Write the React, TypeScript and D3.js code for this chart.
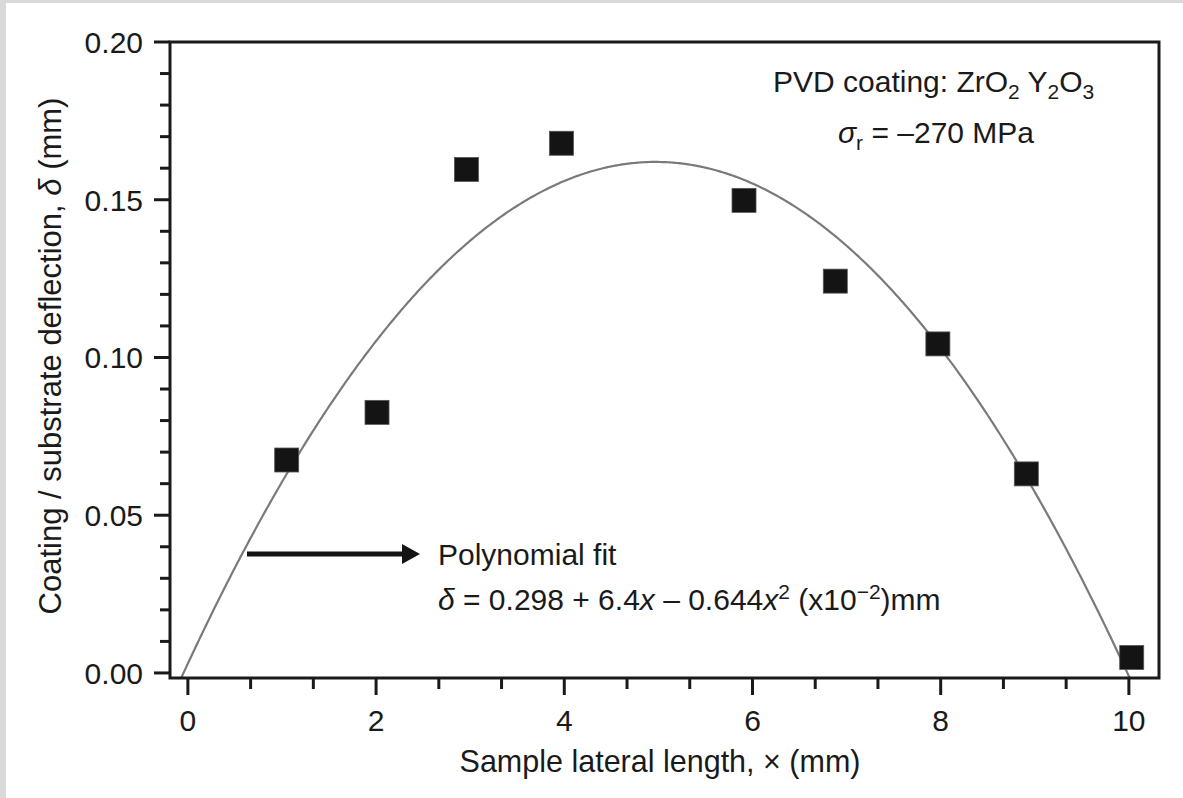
import React from 'react';
import * as d3 from 'd3';

// ---- data ----
const sampleX = [1.05, 2.01, 2.96, 3.97, 5.91, 6.88, 7.97, 8.91, 10.03];
const deflection = [0.0675, 0.0826, 0.1596, 0.1679, 0.1498, 0.1242, 0.1043, 0.0631, 0.0049];
// polynomial fit coefficients, delta = c0 + c1 x + c2 x^2 (x10^-2 mm)
const fitCoefficients = [0.298, 6.4, -0.644];
const fitScale = 0.01;
const xTickValues = [0, 2, 4, 6, 8, 10];
const yTickValues = [0, 0.05, 0.1, 0.15, 0.2];
const yTickLabels = ['0.00', '0.05', '0.10', '0.15', '0.20'];

const W = 1183;
const H = 798;
const FONT = '"Liberation Sans", Arial, Helvetica, sans-serif';

const frame = { left: 170, right: 1159, top: 42, bottom: 678 };

export default function App() {
  const x = d3.scaleLinear().domain([-0.19, 10.32]).range([frame.left, frame.right]);
  const y = d3.scaleLinear().domain([-0.0016, 0.2]).range([frame.bottom, frame.top]);

  const xMinor = d3.range(0, 15).map((i) => (i * 2) / 3).filter((v) => v <= 10.001 && Math.abs(v - Math.round(v / 2) * 2) > 0.01);
  const yMinor = d3.range(0, 21).map((i) => i * 0.01).filter((v) => Math.abs(v / 0.05 - Math.round(v / 0.05)) > 0.01);

  const fitXs = d3.range(-0.08, 10.06, 0.02);
  const fitPts: [number, number][] = fitXs.map((v) => [
    v,
    (fitCoefficients[0] + fitCoefficients[1] * v + fitCoefficients[2] * v * v) * fitScale,
  ]);
  const line = d3
    .line<[number, number]>()
    .x((d) => x(d[0]))
    .y((d) => y(d[1]))
    .curve(d3.curveLinear);

  const sq = 24;
  const fs = 30;
  const sub = 21;

  return (
    <svg
      width={W}
      height={H}
      style={{ position: 'absolute', left: 0, top: 0, background: '#fff' }}
      fontFamily={FONT}
    >
      <rect x={0} y={0} width={W} height={H} fill="#fff" />
      <rect x={0} y={0} width={W} height={3} fill="#d9d9d9" />
      <rect x={0} y={0} width={6} height={H} fill="#d9d9d9" />
      <defs>
        <clipPath id="plotClip">
          <rect x={frame.left} y={frame.top} width={frame.right - frame.left} height={frame.bottom - frame.top} />
        </clipPath>
      </defs>

      {/* fit curve */}
      <path d={line(fitPts) || ''} fill="none" stroke="#7a7a7a" strokeWidth={2.2} clipPath="url(#plotClip)" />

      {/* data points */}
      {sampleX.map((v, i) => (
        <rect
          key={i}
          x={x(v) - sq / 2}
          y={y(deflection[i]) - sq / 2}
          width={sq}
          height={sq}
          fill="#141414"
          stroke="#555"
          strokeWidth={0.8}
        />
      ))}

      {/* frame */}
      <rect
        x={frame.left}
        y={frame.top}
        width={frame.right - frame.left}
        height={frame.bottom - frame.top}
        fill="none"
        stroke="#1a1a1a"
        strokeWidth={3}
      />

      {/* y ticks */}
      {yTickValues.map((v, i) => (
        <g key={'yt' + i}>
          <line x1={frame.left - 16} x2={frame.left} y1={y(v)} y2={y(v)} stroke="#1a1a1a" strokeWidth={3} />
          <text x={143} y={y(v)} dy="0.36em" textAnchor="end" fontSize={fs} fill="#1a1a1a">
            {yTickLabels[i]}
          </text>
        </g>
      ))}
      {yMinor.map((v, i) => (
        <line key={'ym' + i} x1={frame.left - 10} x2={frame.left} y1={y(v)} y2={y(v)} stroke="#1a1a1a" strokeWidth={3} />
      ))}

      {/* x ticks */}
      {xTickValues.map((v, i) => (
        <g key={'xt' + i}>
          <line x1={x(v)} x2={x(v)} y1={frame.bottom} y2={frame.bottom + 17} stroke="#1a1a1a" strokeWidth={3} />
          <text x={x(v)} y={731} textAnchor="middle" fontSize={fs} fill="#1a1a1a">
            {String(v)}
          </text>
        </g>
      ))}
      {xMinor.map((v, i) => (
        <line key={'xm' + i} x1={x(v)} x2={x(v)} y1={frame.bottom} y2={frame.bottom + 11} stroke="#1a1a1a" strokeWidth={3} />
      ))}

      {/* axis titles */}
      <text x={660} y={772} textAnchor="middle" fontSize={30.5} fill="#1a1a1a">
        Sample lateral length, × (mm)
      </text>
      <text
        transform={`translate(61, ${356}) rotate(-90)`}
        textAnchor="middle"
        fontSize={31}
        fill="#1a1a1a"
      >
        Coating / substrate deflection, <tspan fontStyle="italic">δ</tspan> (mm)
      </text>

      {/* annotation top right */}
      <text x={773} y={92} fontSize={fs} fill="#1a1a1a">
        PVD coating: ZrO<tspan fontSize={sub} dy={7}>2</tspan>
        <tspan dy={-7}> Y</tspan>
        <tspan fontSize={sub} dy={7}>2</tspan>
        <tspan dy={-7}>O</tspan>
        <tspan fontSize={sub} dy={7}>3</tspan>
      </text>
      <text x={838} y={143} fontSize={fs} fill="#1a1a1a">
        <tspan fontStyle="italic">σ</tspan>
        <tspan fontSize={sub} dy={7}>r</tspan>
        <tspan dy={-7}> = –270 MPa</tspan>
      </text>

      {/* arrow */}
      <line x1={247} x2={404} y1={554} y2={554} stroke="#141414" strokeWidth={5} />
      <path d="M402,544 L420,554 L402,564 Z" fill="#141414" />

      <text x={438} y={565} fontSize={fs} fill="#1a1a1a">
        Polynomial fit
      </text>
      <text x={438} y={610} fontSize={fs} fill="#1a1a1a">
        <tspan fontStyle="italic">δ</tspan> = 0.298 + 6.4<tspan fontStyle="italic">x</tspan> – 0.644
        <tspan fontStyle="italic">x</tspan>
        <tspan fontSize={sub} dy={-11}>2</tspan>
        <tspan dy={11}> (x10</tspan>
        <tspan fontSize={sub} dy={-11}>−2</tspan>
        <tspan dy={11}>)mm</tspan>
      </text>
    </svg>
  );
}
